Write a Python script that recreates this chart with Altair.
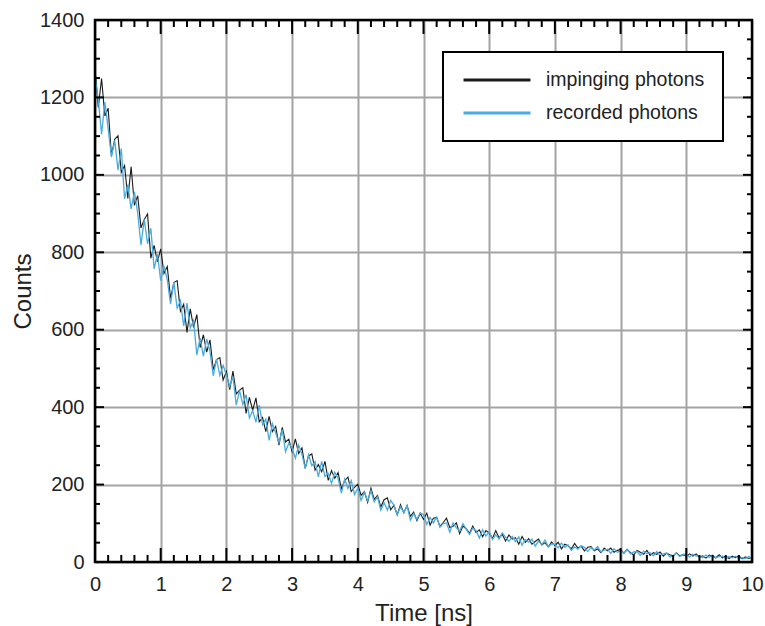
import altair as alt
import pandas as pd

# sampling grid of the decay histogram (ns)
time_ns = [round(i * 0.05, 2) for i in range(201)]

impinging = [
    1275, 1174, 1249, 1152, 1172, 1050, 1092, 1101, 1006, 1024, 939, 1021, 921, 946, 863, 885, 899, 785, 818, 775,
    809, 745, 763, 681, 722, 727, 648, 666, 593, 654, 606, 639, 554, 587, 542, 574, 497, 523, 528, 470,
    492, 445, 493, 434, 444, 450, 384, 425, 392, 424, 362, 373, 337, 376, 337, 350, 302, 348, 310, 317,
    285, 318, 280, 295, 242, 274, 279, 237, 252, 233, 260, 211, 236, 216, 231, 189, 210, 219, 182, 193,
    201, 172, 182, 154, 191, 162, 172, 142, 161, 166, 135, 146, 122, 148, 127, 146, 118, 129, 107, 126,
    110, 126, 95, 113, 115, 92, 102, 113, 89, 92, 101, 73, 93, 86, 74, 93, 76, 83, 65, 81,
    75, 61, 81, 63, 71, 54, 70, 59, 63, 46, 66, 51, 60, 46, 53, 59, 44, 50, 39, 52,
    42, 51, 34, 46, 42, 34, 48, 36, 41, 29, 38, 40, 29, 34, 24, 36, 29, 36, 25, 30,
    32, 23, 32, 24, 18, 30, 25, 20, 30, 17, 24, 20, 26, 15, 23, 19, 16, 24, 16, 19,
    15, 21, 15, 21, 12, 16, 10, 18, 15, 11, 19, 11, 15, 9, 15, 11, 16, 8, 13, 9,
    12,
]

recorded = [
    1257, 1194, 1105, 1188, 1120, 1046, 1089, 1012, 1068, 938, 975, 912, 956, 901, 819, 885, 822, 862, 757, 795,
    727, 765, 729, 666, 723, 656, 675, 610, 669, 605, 624, 535, 578, 532, 576, 544, 481, 524, 482, 508,
    483, 454, 479, 405, 443, 407, 432, 372, 391, 361, 405, 355, 369, 314, 357, 333, 308, 342, 285, 307,
    294, 268, 302, 278, 242, 277, 249, 259, 220, 260, 221, 229, 203, 232, 216, 178, 214, 190, 210, 174,
    191, 159, 180, 158, 184, 155, 169, 134, 153, 134, 159, 147, 122, 143, 127, 146, 108, 125, 110, 127,
    122, 97, 115, 101, 116, 90, 99, 101, 77, 101, 88, 80, 99, 85, 71, 88, 81, 62, 83, 67,
    78, 58, 70, 59, 75, 64, 53, 66, 53, 65, 43, 58, 51, 59, 41, 54, 45, 57, 39, 47,
    45, 37, 49, 38, 44, 30, 39, 33, 42, 38, 27, 37, 31, 40, 26, 31, 33, 22, 34, 25,
    29, 23, 33, 21, 26, 27, 17, 28, 21, 24, 16, 27, 17, 21, 23, 13, 16, 23, 14, 20,
    19, 13, 20, 15, 16, 11, 18, 12, 18, 11, 14, 15, 9, 14, 11, 15, 8, 11, 9, 14,
    9,
]

series_names = ["impinging photons", "recorded photons"]
series_colors = ["#1a1a1a", "#4aabdf"]

x_major = list(range(0, 11))
x_minor = [round(i * 0.2, 1) for i in range(1, 50) if i % 5 != 0]
y_major = list(range(0, 1401, 200))
y_minor = [v for v in range(50, 1400, 50) if v % 200 != 0]

W, H = 657, 542
FONT = "Liberation Sans"

df = pd.DataFrame({
    "time": time_ns * 2,
    "counts": impinging + recorded,
    "series": [series_names[0]] * len(time_ns) + [series_names[1]] * len(time_ns),
})

xs = alt.Scale(domain=[0, 10], nice=False, zero=False)
ys = alt.Scale(domain=[0, 1400], nice=False)

x_axis = alt.Axis(values=x_major, title="Time [ns]", format="d")
y_axis = alt.Axis(values=y_major, title="Counts", format="d")

color = alt.Color(
    "series:N",
    scale=alt.Scale(domain=series_names, range=series_colors),
    legend=alt.Legend(
        title=None, orient="none", legendX=348, legendY=32,
        symbolType="M-4,0L4,0", symbolSize=280, symbolStrokeWidth=3,
        symbolOffset=26, labelOffset=39, labelFontSize=19.5, labelFont=FONT,
        labelColor="#222222", rowPadding=13, padding=18,
        strokeColor="black", fillColor="white",
    ),
)

base = alt.Chart(df)
lines = []
for name, sw in zip(series_names, [1.1, 1.3]):
    lines.append(
        base.transform_filter(alt.datum.series == name)
        .mark_line(strokeWidth=sw)
        .encode(
            x=alt.X("time:Q", scale=xs, axis=x_axis),
            y=alt.Y("counts:Q", scale=ys, axis=y_axis),
            color=color,
        )
    )

tick_style = dict(color="black", strokeWidth=2)


def x_ticks(vals, length):
    c = alt.Chart(pd.DataFrame({"time": vals}))
    xe = alt.X("time:Q", scale=xs, axis=x_axis)
    return [
        c.mark_rule(**tick_style).encode(x=xe, y=alt.value(H), y2=alt.value(H - length)),
        c.mark_rule(**tick_style).encode(x=xe, y=alt.value(0), y2=alt.value(length)),
    ]


def y_ticks(vals, length):
    c = alt.Chart(pd.DataFrame({"counts": vals}))
    ye = alt.Y("counts:Q", scale=ys, axis=y_axis)
    return [
        c.mark_rule(**tick_style).encode(y=ye, x=alt.value(0), x2=alt.value(length)),
        c.mark_rule(**tick_style).encode(y=ye, x=alt.value(W), x2=alt.value(W - length)),
    ]


ticks = x_ticks(x_major, 14) + x_ticks(x_minor, 7) + y_ticks(y_major, 9) + y_ticks(y_minor, 5)

frame = alt.Chart(pd.DataFrame({"f": [0]})).mark_rect(
    filled=False, stroke="black", strokeWidth=2.5
).encode(x=alt.value(0), x2=alt.value(W), y=alt.value(0), y2=alt.value(H))

chart = (
    alt.layer(*lines, *ticks, frame)
    .properties(
        width=W, height=H,
        padding={"left": 95, "top": 20, "right": 13, "bottom": 64},
        autosize=alt.AutoSizeParams(type="none"),
        background="white",
    )
    .configure_view(stroke=None)
    .configure_axis(
        grid=True, gridColor="#a3a3a3", gridWidth=2,
        ticks=False, tickSize=0, domain=False,
        labelFont=FONT, labelFontSize=20, labelColor="#222222", labelFlush=False,
        titleFont=FONT, titleFontSize=24, titleFontWeight="normal", titleColor="#222222",
    )
    .configure_axisX(labelPadding=12, titlePadding=7)
    .configure_axisY(labelPadding=11, titlePadding=4)
    .configure_legend(strokeWidth=2)
)

chart.save("out.html", embed_options={"renderer": "svg", "actions": False})
